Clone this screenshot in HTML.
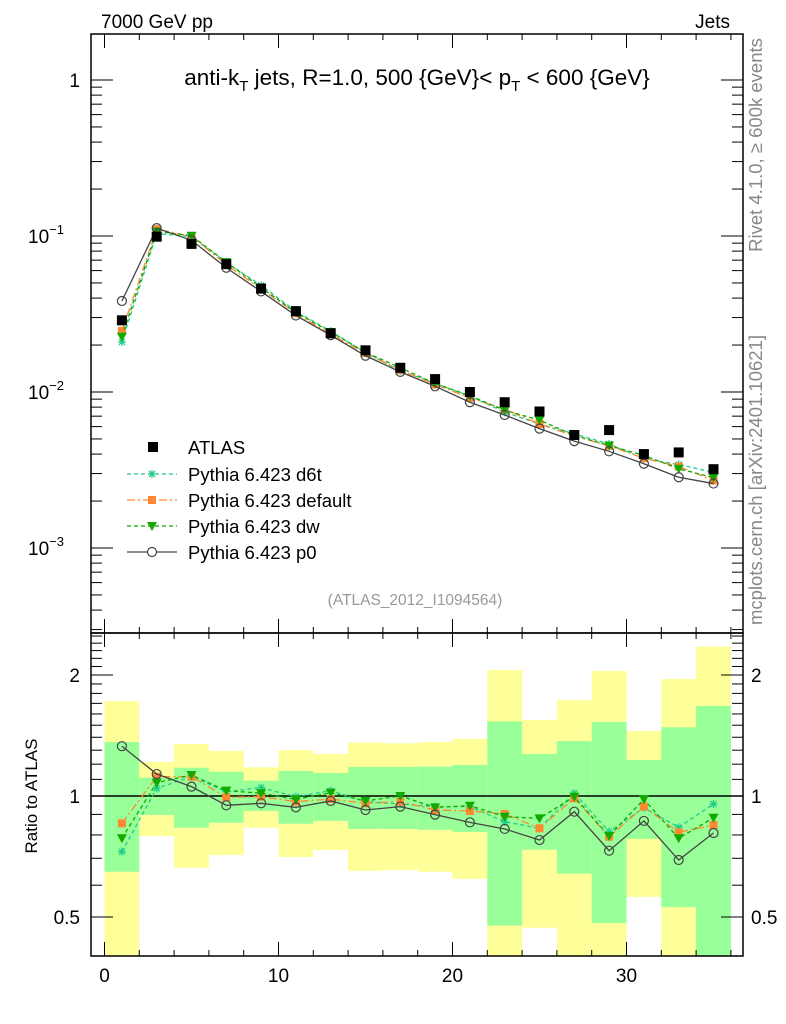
<!DOCTYPE html>
<html><head><meta charset="utf-8"><style>
body{margin:0;background:#fff;}
svg{display:block;font-family:"Liberation Sans",sans-serif;}
</style></head><body>
<svg id="c" width="786" height="1024" viewBox="0 0 786 1024">
<g id="bands"></g>
<g id="marks"></g>
<g id="axes"></g>
<text x="101" y="28" font-size="19">7000 GeV pp</text>
<text x="730" y="28" font-size="19" text-anchor="end">Jets</text>
<text x="417" y="85" font-size="22.5" text-anchor="middle">anti-k<tspan font-size="15" dy="6">T</tspan><tspan dy="-6"> jets, R=1.0, 500 {GeV}&lt; p</tspan><tspan font-size="15" dy="6">T</tspan><tspan dy="-6"> &lt; 600 {GeV}</tspan></text>
<text x="415" y="605" font-size="15.5" fill="#999" text-anchor="middle">(ATLAS_2012_I1094564)</text>
<text transform="translate(762,145) rotate(-90)" font-size="18.5" fill="#888" text-anchor="middle">Rivet 4.1.0, ≥ 600k events</text>
<text transform="translate(762,480) rotate(-90)" font-size="18.5" fill="#888" text-anchor="middle">mcplots.cern.ch [arXiv:2401.10621]</text>
<text transform="translate(37,796) rotate(-90)" font-size="17" text-anchor="middle">Ratio to ATLAS</text>
<g id="legend"></g>
</svg>
<script>
const xs=[1,3,5,7,9,11,13,15,17,19,21,23,25,27,29,31,33,35];
const atlas=[0.0288,0.099,0.089,0.066,0.046,0.033,0.0238,0.0185,0.0143,0.0121,0.0100,0.0086,0.0075,0.0053,0.0057,0.0040,0.0041,0.0032];
const rP0=[1.33,1.134,1.055,0.948,0.959,0.937,0.972,0.923,0.941,0.899,0.860,0.828,0.777,0.914,0.731,0.867,0.693,0.809];
const rDef=[0.855,1.117,1.117,0.993,0.996,0.968,0.983,0.959,0.968,0.923,0.918,0.902,0.831,0.987,0.792,0.941,0.812,0.847];
const rDw=[0.785,1.079,1.128,1.031,1.016,0.981,1.019,0.972,1.0,0.937,0.946,0.888,0.880,0.996,0.795,0.981,0.785,0.883];
const rD6t=[0.727,1.045,1.117,1.025,1.049,0.996,1.031,0.968,0.955,0.941,0.941,0.863,0.831,1.016,0.815,0.935,0.836,0.955];
const yelHi=[1.723,1.215,1.347,1.294,1.178,1.301,1.272,1.357,1.352,1.362,1.386,2.058,1.546,1.733,2.046,1.451,1.954,2.352];
const grnHi=[1.362,1.111,1.176,1.149,1.092,1.154,1.141,1.181,1.181,1.183,1.194,1.534,1.272,1.370,1.527,1.229,1.482,1.675];
const grnLo=[0.648,0.897,0.834,0.858,0.918,0.853,0.867,0.828,0.828,0.824,0.814,0.476,0.735,0.641,0.483,0.782,0.529,0.3];
const yelLo=[0.3,0.795,0.663,0.713,0.834,0.705,0.734,0.651,0.655,0.648,0.622,0.3,0.470,0.3,0.3,0.561,0.3,0.3];
const xTicks=[0,10,20,30];
const mainTicks=[0,-1,-2,-3];
const ratioTicks=[2,1,0.5];

const NS="http://www.w3.org/2000/svg";
const L=91,R=743,T=34,MB=633,B=956;
const X=v=>104.5+v*17.4;
const Y=v=>80-Math.log10(v)*156;
const RY=v=>796-Math.log10(v)*402;
const RYc=v=>Math.min(B,Math.max(MB,RY(v)));
function el(tag,attrs,parent){const e=document.createElementNS(NS,tag);for(const k in attrs)e.setAttribute(k,attrs[k]);parent.appendChild(e);return e;}
const bands=document.getElementById('bands'),marks=document.getElementById('marks'),axes=document.getElementById('axes'),legend=document.getElementById('legend');

xs.forEach((x,i)=>{
  const x0=X(x-1),x1=X(x+1);
  const a=el('rect',{x:x0,y:RYc(yelHi[i]),width:x1-x0,height:RYc(yelLo[i])-RYc(yelHi[i]),fill:'#ffff99'},bands);
  
  
  const g=el('rect',{x:x0,y:RYc(grnHi[i]),width:x1-x0,height:RYc(grnLo[i])-RYc(grnHi[i]),fill:'#99ff99'},bands);
  
  
});
const one=el('line',{x1:L,x2:R,y1:RY(1),y2:RY(1),stroke:'#000','stroke-width':1.5},bands);



function marker(type,cx,cy,col,parent){
  let m;
  if(type==='sq'){m=el('rect',{x:cx-5,y:cy-5,width:10,height:10,fill:col},parent);}
  else if(type==='osq'){m=el('rect',{x:cx-4,y:cy-4,width:8,height:8,fill:col},parent);}
  else if(type==='tri'){m=el('path',{d:`M${cx-5},${cy-4}L${cx+5},${cy-4}L${cx},${cy+5}Z`,fill:col},parent);}
  else if(type==='circ'){m=el('circle',{cx:cx,cy:cy,r:4.5,fill:'none',stroke:col,'stroke-width':1.2},parent);}
  else {m=el('path',{d:`M${cx-4},${cy}H${cx+4}M${cx},${cy-4}V${cy+4}M${cx-3},${cy-3}L${cx+3},${cy+3}M${cx-3},${cy+3}L${cx+3},${cy-3}`,stroke:col,'stroke-width':1.3},parent);}
  return m;
}
const series=[
 {name:'Pythia 6.423 d6t',r:rD6t,col:'#22cc88',dash:'4,3',m:'star',key:'d6t'},
 {name:'Pythia 6.423 default',r:rDef,col:'#ff8833',dash:'8,3,2,3',m:'osq',key:'default'},
 {name:'Pythia 6.423 dw',r:rDw,col:'#11aa00',dash:'4,3',m:'tri',key:'dw'},
 {name:'Pythia 6.423 p0',r:rP0,col:'#444',dash:'',m:'circ',key:'p0'}
];
series.forEach(s=>{
  const pm=xs.map((x,i)=>`${X(x)},${Y(atlas[i]*s.r[i])}`).join(' ');
  const l1=el('polyline',{points:pm,fill:'none',stroke:s.col,'stroke-width':1.3,'stroke-dasharray':s.dash},marks);
  
  
  const pr=xs.map((x,i)=>`${X(x)},${RY(s.r[i])}`).join(' ');
  const l2=el('polyline',{points:pr,fill:'none',stroke:s.col,'stroke-width':1.3,'stroke-dasharray':s.dash},marks);
  
  
  xs.forEach((x,i)=>{
    const a=marker(s.m,X(x),Y(atlas[i]*s.r[i]),s.col,marks);
    
    
    const b=marker(s.m,X(x),RY(s.r[i]),s.col,marks);
    
    
  });
});
xs.forEach((x,i)=>{
  const a=marker('sq',X(x),Y(atlas[i]),'#000',marks);
  
  
});

[[T,MB],[MB,B]].forEach(([t,b])=>{
  const f=el('rect',{x:L,y:t,width:R-L,height:b-t,fill:'none',stroke:'#000','stroke-width':1.5},axes);
  
  
});
for(let v=0;v<=36;v+=2){
  const big=v%10===0,len=big?14:6;
  el('line',{x1:X(v),x2:X(v),y1:B,y2:B-len,stroke:'#000'},axes);
  el('line',{x1:X(v),x2:X(v),y1:MB,y2:MB+len,stroke:'#000'},axes);
  el('line',{x1:X(v),x2:X(v),y1:MB,y2:MB-len,stroke:'#000'},axes);
  el('line',{x1:X(v),x2:X(v),y1:T,y2:T+len,stroke:'#000'},axes);
}
xTicks.forEach(v=>{
  const t=el('text',{x:X(v),y:982,'font-size':19,'text-anchor':'middle'},axes);
  t.textContent=v;
  
  
});
for(let d=0;d>=-4;d--){
  for(let k=1;k<10;k++){
    const y=Y(k*Math.pow(10,d));
    if(y<T||y>MB)continue;
    const len=k===1?22:11;
    el('line',{x1:L,x2:L+len,y1:y,y2:y,stroke:'#000'},axes);
    el('line',{x1:R,x2:R-len,y1:y,y2:y,stroke:'#000'},axes);
  }
}
mainTicks.forEach(d=>{
  const t=el('text',{x:d===0?80:64,y:Y(Math.pow(10,d))+7,'font-size':19,'text-anchor':'end'},axes);
  
  
  if(d===0)t.textContent='1';
  else{t.textContent='10';const s=el('tspan',{'font-size':13,dy:-9},t);s.textContent='−'+(-d);}
});
for(let v=0.4;v<=2.51;v+=0.1){
  const y=RY(v);if(y<MB||y>B)continue;
  const big=[0.5,1,2].some(u=>Math.abs(u-v)<1e-6),len=big?22:11;
  el('line',{x1:L,x2:L+len,y1:y,y2:y,stroke:'#000'},axes);
  el('line',{x1:R,x2:R-len,y1:y,y2:y,stroke:'#000'},axes);
}
ratioTicks.forEach(v=>{
  const t=el('text',{x:80,y:RY(v)+7,'font-size':19,'text-anchor':'end'},axes);
  t.textContent=v;
  
  
  const t2=el('text',{x:751,y:RY(v)+7,'font-size':19},axes);
  t2.textContent=v;
  
  
});
const ly=[447,474,500,526,552];
const la=marker('sq',153,ly[0],'#000',legend);


const lt=el('text',{x:188,y:ly[0]+7,'font-size':18.5},legend);
lt.textContent='ATLAS';


series.forEach((s,i)=>{
  const y=ly[i+1];
  const ln=el('line',{x1:127,x2:177,y1:y,y2:y,stroke:s.col,'stroke-width':1.3,'stroke-dasharray':s.dash},legend);
  
  
  if(s.m==='circ')el('circle',{cx:152,cy:y,r:4.5,fill:'#fff'},legend);
  const m=marker(s.m,152,y,s.col,legend);
  
  
  const t=el('text',{x:188,y:y+7,'font-size':18.5},legend);
  t.textContent=s.name;
  
  
});
</script>
</body></html>
